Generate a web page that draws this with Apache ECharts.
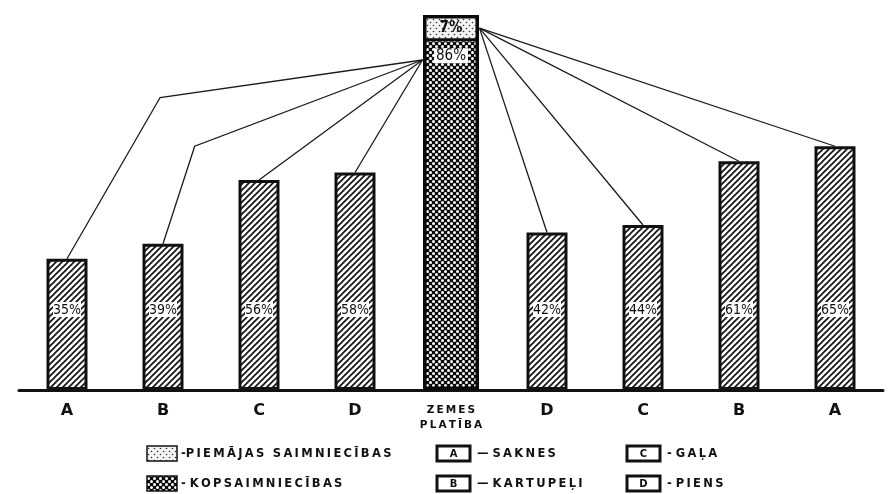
<!DOCTYPE html>
<html>
<head>
<meta charset="utf-8">
<script src="https://cdn.jsdelivr.net/npm/echarts@6/dist/echarts.min.js"></script>
<style>
  html, body { margin: 0; padding: 0; background: #fff; }
  #chart { width: 890px; height: 494px; }
</style>
</head>
<body>
<div id="chart"></div>
<script>
// Categories along the axis: four products, land area, the same four mirrored
const categories = ['A', 'B', 'C', 'D', 'ZEMES PLATĪBA', 'D', 'C', 'B', 'A'];
// Shares of output (%) — left side: collective farms, right side: household plots
const sideShares = [35, 39, 56, 58, '-', 42, 44, 61, 65];
// Land area (%) split for the central column
const landCollective = 86;   // kopsaimniecības
const landHousehold = 7;     // piemājas saimniecības
const landOther = 7;         // remaining land
// Legend texts
const productKeys = ['A', 'B', 'C', 'D'];
const productNames = ['SAKNES', 'KARTUPEĻI', 'GAĻA', 'PIENS'];
const farmNames = ['PIEMĀJAS SAIMNIECĪBAS', 'KOPSAIMNIECĪBAS'];

// ---- fill patterns ----
function makeCanvas(size, draw) {
  const c = document.createElement('canvas');
  c.width = size; c.height = size;
  draw(c.getContext('2d'), size);
  return c;
}
const hatch = makeCanvas(6, (g, s) => {
  g.fillStyle = '#fff'; g.fillRect(0, 0, s, s);
  g.strokeStyle = '#111'; g.lineWidth = 1.7; g.lineCap = 'square';
  [-s, 0, s].forEach((ox) => {
    g.beginPath(); g.moveTo(ox, s); g.lineTo(ox + s, 0); g.stroke();
  });
});
const dotsDark = makeCanvas(6, (g, s) => {
  g.fillStyle = '#0a0a0a'; g.fillRect(0, 0, s, s);
  g.fillStyle = '#fff';
  [[1.5, 1.5], [4.5, 4.5]].forEach(([x, y]) => {
    g.beginPath(); g.arc(x, y, 1.5, 0, Math.PI * 2); g.fill();
  });
});
const dotsLight = makeCanvas(6, (g, s) => {
  g.fillStyle = '#f4f4f4'; g.fillRect(0, 0, s, s);
  g.fillStyle = '#333';
  [[1.5, 1.5], [4.5, 4.5]].forEach(([x, y]) => {
    g.beginPath(); g.arc(x, y, 0.8, 0, Math.PI * 2); g.fill();
  });
});
const pat = (img) => ({ image: img, repeat: 'repeat' });

const FONT = '"DejaVu Sans", sans-serif';
const FONT_NARROW = '"DejaVu Sans Condensed", "DejaVu Sans", sans-serif';
// widely tracked lettering for the legend
const spaced = (s) => Array.from(s).join('\u2009');

// connector data: each side bar is linked to the central column
const connectorData = sideShares
  .map((v, i) => (v === '-' ? null : [i, v]))
  .filter(Boolean);
const centerIndex = categories.indexOf('ZEMES PLATĪBA');
const centerHalfWidth = 28.5;
// bent connectors on the left: [offset in category widths, value] of the bend
const connectorBends = { 0: [0.97, 78], 1: [0.33, 65] };

const chart = echarts.init(document.getElementById('chart'));

const legendGraphics = [];
// farm-type legend
[[dotsLight, farmNames[0], '-'], [dotsDark, farmNames[1], '- ']].forEach(([p, name, dash], k) => {
  const y = 446 + k * 30;
  legendGraphics.push({
    type: 'rect', shape: { x: 147, y: y, width: 30, height: 15 },
    style: { fill: pat(p), stroke: '#111', lineWidth: 1.5 }
  });
  legendGraphics.push({
    type: 'text', x: 181, y: y + 8,
    style: { text: dash + spaced(name), font: 'bold 11.5px ' + FONT, fill: '#111', verticalAlign: 'middle' }
  });
});
// product legend
productKeys.forEach((key, k) => {
  const col = Math.floor(k / 2), row = k % 2;
  const x = 437 + col * 190, y = 446 + row * 30;
  legendGraphics.push({
    type: 'rect', shape: { x: x, y: y, width: 33, height: 15 },
    style: { fill: '#fff', stroke: '#111', lineWidth: 3 }
  });
  legendGraphics.push({
    type: 'text', x: x + 16.5, y: y + 8,
    style: { text: key, font: 'bold 10px ' + FONT, fill: '#111', align: 'center', verticalAlign: 'middle' }
  });
  legendGraphics.push({
    type: 'text', x: x + 40, y: y + 8,
    style: { text: (col === 0 ? '— ' : '- ') + spaced(productNames[k]), font: 'bold 11.5px ' + FONT, fill: '#111', verticalAlign: 'middle' }
  });
});

const centerOnly = (v) => categories.map((c, i) => (i === centerIndex ? v : '-'));

const option = {
  backgroundColor: '#fff',
  animation: false,
  grid: { left: 19, right: 7, top: 15, bottom: 104, containLabel: false },
  xAxis: [
    {
      type: 'category', data: categories,
      axisLine: { lineStyle: { color: '#111', width: 3 } },
      axisTick: { show: false },
      axisLabel: {
        interval: 0, margin: 13, color: '#111', fontFamily: FONT, fontWeight: 'bold', fontSize: 16,
        formatter: (v) => v === 'ZEMES PLATĪBA' ? '{z|' + spaced('ZEMES') + '}\n{z|' + spaced('PLATĪBA') + '}' : v,
        rich: { z: { fontSize: 10.5, fontWeight: 'bold', fontFamily: FONT, color: '#111', lineHeight: 15 } }
      }
    },
    { type: 'category', data: categories, show: false }
  ],
  yAxis: { type: 'value', min: 0, max: 100, show: false },
  series: [
    {
      type: 'bar', name: 'side', xAxisIndex: 0, data: sideShares, barWidth: 41,
      itemStyle: { color: pat(hatch), borderColor: '#111', borderWidth: 3 },
      label: {
        show: true, position: 'insideBottom', distance: 73,
        formatter: '{c}%', color: '#111', fontSize: 14, fontFamily: FONT_NARROW,
        backgroundColor: '#fff', padding: [1, 0, 0, 0]
      },
      z: 3
    },
    {
      type: 'bar', name: 'other', xAxisIndex: 1, stack: 'land', barWidth: 56,
      data: centerOnly(landOther),
      itemStyle: { color: pat(dotsDark), borderWidth: 0 }
    },
    {
      type: 'bar', name: farmNames[1], xAxisIndex: 1, stack: 'land', barWidth: 56,
      data: centerOnly(landCollective),
      itemStyle: { color: pat(dotsDark), borderWidth: 0 },
      label: {
        show: true, position: 'insideTop', distance: 7, formatter: '{c}%',
        color: '#111', fontSize: 15, fontFamily: FONT_NARROW, backgroundColor: '#fff', padding: [0, 2]
      }
    },
    {
      type: 'bar', name: farmNames[0], xAxisIndex: 1, stack: 'land', barWidth: 56,
      data: centerOnly(landHousehold),
      itemStyle: { color: pat(dotsLight), borderColor: '#0a0a0a', borderWidth: 3 },
      label: {
        show: true, position: 'inside', formatter: '{c}%',
        color: '#111', fontSize: 15, fontWeight: 'bold', fontFamily: FONT_NARROW
      }
    },
    {
      // outline round the whole land column
      type: 'bar', name: 'outline', xAxisIndex: 1, barWidth: 56, barGap: '-100%', silent: true,
      data: centerOnly(landOther + landCollective + landHousehold),
      itemStyle: { color: 'rgba(0,0,0,0)', borderColor: '#0a0a0a', borderWidth: 3.5 },
      z: 4
    },
    {
      type: 'custom', name: 'links', xAxisIndex: 0, data: connectorData, z: 5, silent: true,
      renderItem: (params, api) => {
        const idx = api.value(0), v = api.value(1);
        const start = api.coord([idx, v]);
        const center = api.coord([centerIndex, 0]);
        const band = api.size([1, 0])[0];
        let end;
        if (idx < centerIndex) {
          end = [center[0] - centerHalfWidth, api.coord([centerIndex, landOther + landCollective - 5])[1]];
        } else {
          end = [center[0] + centerHalfWidth, api.coord([centerIndex, landOther + landCollective + landHousehold / 2])[1]];
        }
        const pts = [start];
        const bend = connectorBends[idx];
        if (bend) {
          pts.push([start[0] + bend[0] * band, api.coord([idx, bend[1]])[1]]);
        }
        pts.push(end);
        return {
          type: 'polyline', shape: { points: pts },
          style: { stroke: '#1a1a1a', lineWidth: 1.3, fill: null }
        };
      }
    }
  ],
  graphic: legendGraphics
};

chart.setOption(option);
</script>
</body>
</html>
